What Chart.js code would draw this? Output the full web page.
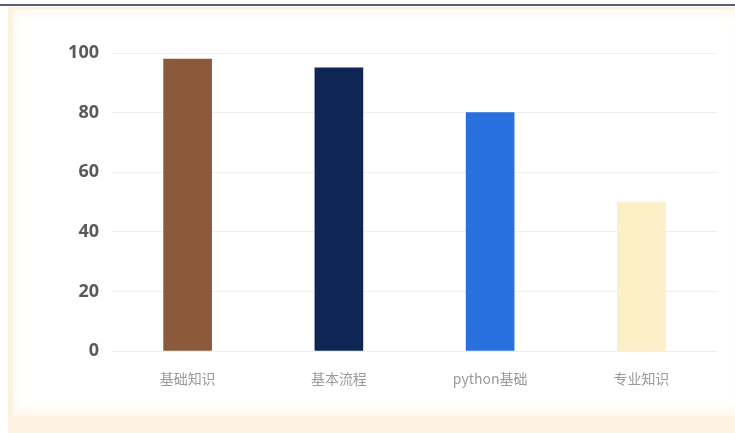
<!DOCTYPE html>
<html>
<head>
<meta charset="utf-8">
<script src="https://cdn.jsdelivr.net/npm/chart.js@4/dist/chart.umd.min.js"></script>
<style>
  html, body { margin: 0; padding: 0; width: 735px; height: 433px; overflow: hidden; background: #ffffff; }
  .topline { position: absolute; left: 0; top: 4px; width: 735px; height: 2px; background: #56606e; }
  .frame { position: absolute; left: 8px; top: 7px; width: 740px; height: 426px; background: #fcf3e2; }
  .card { position: absolute; left: 13px; top: 9px; width: 740px; height: 407px; background: #ffffff;
          box-shadow: 0 0 12px 4px #ffffff inset; }
  .haze { position: absolute; left: 8px; top: 7px; width: 740px; height: 409px;
          box-shadow: 0 0 16px 2px rgba(252,240,218,0.8) inset; }
  canvas { position: absolute; left: 0; top: 0; }
</style>
</head>
<body>
<div class="topline"></div>
<div class="frame"></div>
<div class="card"></div>
<div class="haze"></div>
<canvas id="c" width="735" height="433"></canvas>
<script>
// Course module scores
const categories = ['基础知识', '基本流程', 'python基础', '专业知识'];
const scores = [98, 95, 80, 50];
const barColors = ['#8a5a3a', '#0f2553', '#2870dd', '#fdefc8'];
const yTicks = [0, 20, 40, 60, 80, 100];

new Chart(document.getElementById('c'), {
  type: 'bar',
  data: {
    labels: categories,
    datasets: [{
      data: scores,
      backgroundColor: barColors,
      borderWidth: 0,
      barThickness: 48
    }]
  },
  options: {
    responsive: false,
    animation: false,
    events: [],
    layout: { padding: { left: 0, right: 18, top: 53, bottom: 0 } },
    plugins: { legend: { display: false }, tooltip: { enabled: false } },
    scales: {
      x: {
        grid: { display: false },
        border: { display: false },
        ticks: {
          color: '#9a9a9a',
          font: { family: '"Noto Sans CJK SC", "Noto Sans", sans-serif', size: 14 },
          padding: 11
        },
        afterFit(scale) { scale.height = 82; }
      },
      y: {
        min: 0,
        max: 100,
        afterBuildTicks(scale) { scale.ticks = yTicks.map(v => ({ value: v })); },
        grid: { color: '#eeeeee', lineWidth: 1, drawTicks: false },
        border: { display: false },
        ticks: {
          color: '#5a5a5a',
          font: { family: '"Open Sans", sans-serif', size: 18, weight: 'bold' },
          padding: 13
        },
        afterFit(scale) { scale.width = 112; }
      }
    }
  }
});
</script>
</body>
</html>
